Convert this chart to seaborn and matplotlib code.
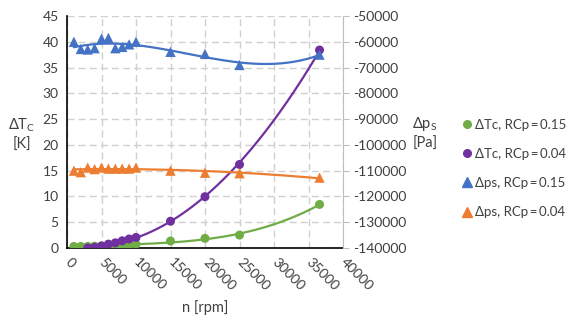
import numpy as np
import pandas as pd
import matplotlib
matplotlib.use("Agg")
import matplotlib.pyplot as plt
from matplotlib.lines import Line2D
import seaborn as sns

# ---- data ----
n_tc015 = [1000, 2000, 3000, 4000, 5000, 6000, 7000, 8000, 9000, 10000, 15000, 20000, 25000, 36600]
tc_015 = [0.3, 0.3, 0.3, 0.35, 0.4, 0.45, 0.5, 0.55, 0.6, 0.75, 1.36, 1.87, 2.5, 8.45]

n_tc004 = [3000, 4000, 5000, 6000, 7000, 8000, 9000, 10000, 15000, 20000, 25000, 36600]
tc_004 = [0.0, 0.12, 0.4, 0.75, 1.0, 1.4, 1.75, 2.05, 5.2, 9.95, 16.2, 38.4]

n_ps = [1000, 2000, 3000, 4000, 5000, 6000, 7000, 8000, 9000, 10000, 15000, 20000, 25000, 36600]
ps_015 = [-60000, -62800, -63000, -62500, -58800, -58500, -62500, -62000, -61000, -60000,
          -63900, -64700, -69000, -65000]
ps_004 = [-110000, -110600, -108800, -109400, -108800, -109200, -109200, -109200, -109200, -108800,
          -110000, -110800, -111000, -112700]

x_ticks = [0, 5000, 10000, 15000, 20000, 25000, 30000, 35000, 40000]
left_ticks = [0, 5, 10, 15, 20, 25, 30, 35, 40, 45]
right_ticks = [-140000, -130000, -120000, -110000, -100000, -90000, -80000, -70000, -60000, -50000]

labels = ["ΔTc, RCp\u2009=\u20090.15", "ΔTc, RCp\u2009=\u20090.04",
          "Δps, RCp\u2009=\u20090.15", "Δps, RCp\u2009=\u20090.04"]
colors = ["#70AD47", "#7030A0", "#4472C4", "#ED7D31"]

sns.set_style("white")
plt.rcParams["font.family"] = ["Lato", "DejaVu Sans"]
plt.rcParams["mathtext.default"] = "regular"
TXT = "#404040"

fig = plt.figure(figsize=(5.71, 3.20), dpi=100)
ax = fig.add_axes([67 / 571, 1 - 248 / 320, (343 - 67) / 571, (248 - 16) / 320])
ax2 = ax.twinx()


def trend(x, y, deg):
    c = np.polyfit(np.asarray(x, float), np.asarray(y, float), deg)
    xs = np.linspace(min(x), max(x), 200)
    return pd.DataFrame({"x": xs, "y": np.polyval(c, xs)})


series = [
    (ax, n_tc015, tc_015, colors[0], "o", 3),
    (ax, n_tc004, tc_004, colors[1], "o", 2),
    (ax2, n_ps, ps_015, colors[2], "^", 3),
    (ax2, n_ps, ps_004, colors[3], "^", 2),
]
for a, xv, yv, col, mk, deg in series:
    t = trend(xv, yv, deg)
    sns.lineplot(data=t, x="x", y="y", ax=a, color=col, lw=1.6, zorder=2)
    d = pd.DataFrame({"x": xv, "y": yv})
    sns.scatterplot(data=d, x="x", y="y", ax=a, color=col, marker=mk,
                    s=42 if mk == "o" else 55, edgecolor="none", zorder=3)

ax.set_xlim(0, 40000)
ax.set_ylim(0, 45)
ax2.set_ylim(-140000, -50000)
ax.set_xticks(x_ticks)
ax.set_xticklabels([str(v) for v in x_ticks], rotation=-45, ha="left", va="center",
                   rotation_mode="anchor")
ax.set_yticks(left_ticks)
ax.set_yticklabels([str(v) for v in left_ticks])
ax2.set_yticks(right_ticks)
ax2.set_yticklabels([f"-{abs(v)}" for v in right_ticks])

ax.grid(True, color="#D0D0D0", ls=(0, (5, 3)), lw=1)
ax.set_axisbelow(True)
ax.tick_params(axis="both", length=0, labelsize=10, colors=TXT, pad=6)
ax.tick_params(axis="x", pad=9)
ax2.tick_params(axis="y", length=4, labelsize=10, colors=TXT, pad=3, direction="out")
ax2.tick_params(axis="y", color="#BFBFBF")

for s in ["top"]:
    ax.spines[s].set_visible(False)
    ax2.spines[s].set_visible(False)
ax.spines["left"].set_color("black")
ax.spines["bottom"].set_color("black")
ax.spines["left"].set_linewidth(1.2)
ax.spines["bottom"].set_linewidth(1.2)
ax.spines["right"].set_visible(False)
ax2.spines["left"].set_visible(False)
ax2.spines["bottom"].set_visible(False)
ax2.spines["right"].set_color("#BFBFBF")

ax.set_xlabel("")
ax.set_ylabel("")
ax2.set_xlabel("")
ax2.set_ylabel("")

fig.text(205 / 571, 1 - 308 / 320, "n [rpm]", ha="center", va="center", fontsize=10.5, color=TXT)
fig.text(22 / 571, 1 - 134 / 320, "ΔT$_C$\n[K]", ha="center", va="center", fontsize=10.5,
         color=TXT, linespacing=1.3)
fig.text(425 / 571, 1 - 133 / 320, "Δp$_S$\n[Pa]", ha="center", va="center", fontsize=10.5,
         color=TXT, linespacing=1.3)

handles = [
    Line2D([], [], ls="none", marker="o", color=colors[0], markersize=5.5),
    Line2D([], [], ls="none", marker="o", color=colors[1], markersize=5.5),
    Line2D([], [], ls="none", marker="^", color=colors[2], markersize=6.5),
    Line2D([], [], ls="none", marker="^", color=colors[3], markersize=6.5),
]
fig.legend(handles, labels, loc="center left", bbox_to_anchor=(462 / 571, 1 - 168.5 / 320),
           frameon=False, fontsize=9.5, handlelength=0.7, handletextpad=0.25,
           labelspacing=1.3, labelcolor=TXT, borderaxespad=0, borderpad=0)

fig.savefig("out.png", dpi=100)
